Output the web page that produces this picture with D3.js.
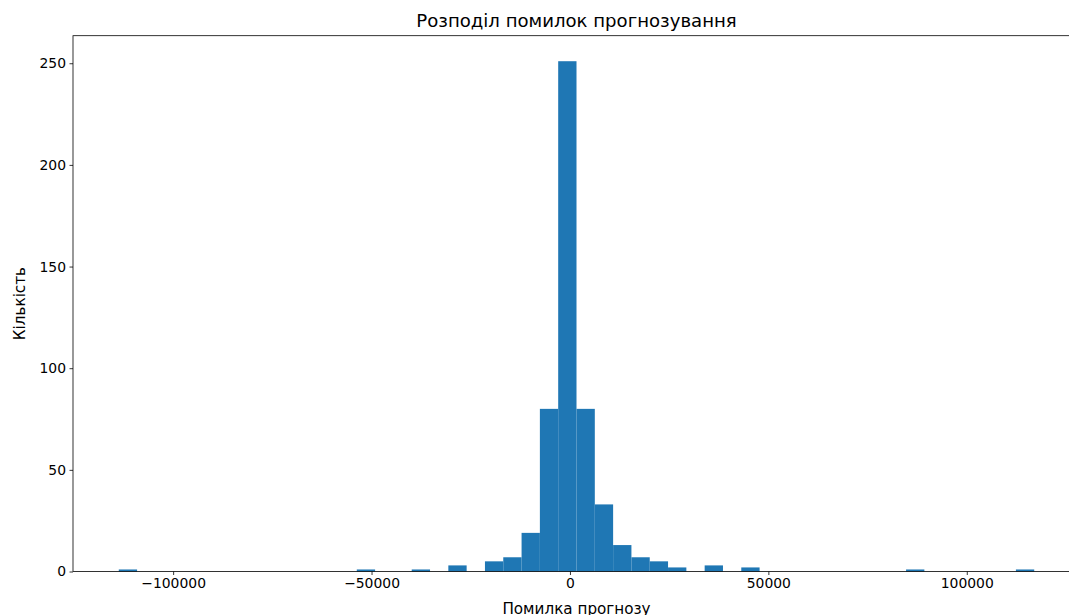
<!DOCTYPE html>
<html>
<head>
<meta charset="utf-8">
<script src="https://cdn.jsdelivr.net/npm/d3@7"></script>
<style>
  html, body { margin: 0; padding: 0; background: #fff; }
  svg { display: block; font-family: "DejaVu Sans", sans-serif; }
</style>
</head>
<body>
<svg id="chart" width="1069" height="615"></svg>
<script>
// Histogram of forecast errors: 50 equal-width bins between the smallest and largest error
const errorMin = -113700;
const errorMax = 117000;
const binCounts = [
  1, 0, 0, 0, 0, 0, 0, 0, 0, 0,
  0, 0, 0, 1, 0, 0, 1, 0, 3, 0,
  5, 7, 19, 80, 251, 80, 33, 13, 7, 5,
  2, 0, 3, 0, 2, 0, 0, 0, 0, 0,
  0, 0, 0, 1, 0, 0, 0, 0, 0, 1
];
const xTicks = [-100000, -50000, 0, 50000, 100000];
const yTicks = [0, 50, 100, 150, 200, 250];

const titleText = "Розподіл помилок прогнозування";
const xLabelText = "Помилка прогнозу";
const yLabelText = "Кількість";

const svg = d3.select("#chart");
const plot = { left: 73, right: 1080, top: 35.7, bottom: 571.5 };

const nBins = binCounts.length;
const binWidth = (errorMax - errorMin) / nBins;
const bins = binCounts.map((c, i) => ({
  x0: errorMin + i * binWidth,
  x1: errorMin + (i + 1) * binWidth,
  count: c
}));

// 5% padding on both sides of the data range, as in a default histogram
const span = errorMax - errorMin;
const x = d3.scaleLinear()
  .domain([errorMin - 0.05 * span, errorMax + 0.05 * span])
  .range([plot.left, plot.right]);
const yMax = d3.max(binCounts) * 1.05;
const y = d3.scaleLinear()
  .domain([0, yMax])
  .range([plot.bottom, plot.top]);

// Bars
svg.append("g")
  .selectAll("rect")
  .data(bins.filter(b => b.count > 0))
  .join("rect")
  .attr("x", d => x(d.x0))
  .attr("width", d => x(d.x1) - x(d.x0))
  .attr("y", d => y(d.count))
  .attr("height", d => y(0) - y(d.count))
  .attr("fill", "#1f77b4");

const fmt = d => d < 0 ? "\u2212" + Math.abs(d) : String(d);

// X axis
const gx = svg.append("g")
  .attr("transform", `translate(0,${plot.bottom})`)
  .call(d3.axisBottom(x).tickValues(xTicks).tickFormat(fmt).tickSize(3.5).tickPadding(3.5));

// Y axis
const gy = svg.append("g")
  .attr("transform", `translate(${plot.left},0)`)
  .call(d3.axisLeft(y).tickValues(yTicks).tickSize(3.5).tickPadding(3.5));

[gx, gy].forEach(g => {
  g.select(".domain").remove();
  g.selectAll(".tick line").attr("stroke", "#000").attr("stroke-width", 0.8);
  g.selectAll(".tick text")
    .attr("fill", "#000")
    .style("font-family", "'DejaVu Sans', sans-serif")
    .style("font-size", "13.9px");
});

// Frame
svg.append("rect")
  .attr("x", plot.left)
  .attr("y", plot.top)
  .attr("width", plot.right - plot.left)
  .attr("height", plot.bottom - plot.top)
  .attr("fill", "none")
  .attr("stroke", "#000")
  .attr("stroke-width", 0.8);

const cx = (plot.left + plot.right) / 2;

// Title
svg.append("text")
  .attr("x", cx)
  .attr("y", 27)
  .attr("text-anchor", "middle")
  .style("font-size", "18.1px")
  .attr("fill", "#000")
  .text(titleText);

// Axis labels
svg.append("text")
  .attr("x", cx)
  .attr("y", 614)
  .attr("text-anchor", "middle")
  .style("font-size", "15.2px")
  .attr("fill", "#000")
  .text(xLabelText);

svg.append("text")
  .attr("transform", `translate(25,${(plot.top + plot.bottom) / 2}) rotate(-90)`)
  .attr("text-anchor", "middle")
  .style("font-size", "15.2px")
  .attr("fill", "#000")
  .text(yLabelText);
</script>
</body>
</html>
